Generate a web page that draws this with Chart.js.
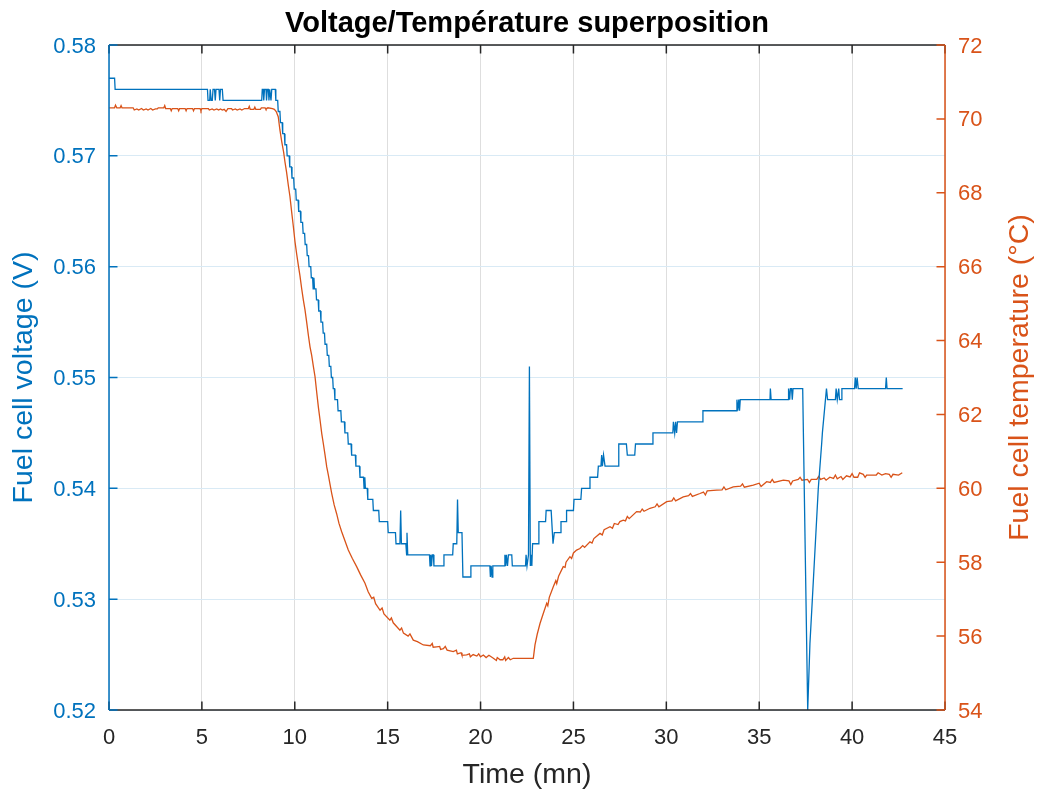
<!DOCTYPE html>
<html>
<head>
<meta charset="utf-8">
<script src="https://cdn.jsdelivr.net/npm/chart.js@4.4.1/dist/chart.umd.min.js"></script>
<style>
  html, body { margin: 0; padding: 0; background: #ffffff; }
  #wrap { width: 1038px; height: 794px; }
</style>
</head>
<body>
<div id="wrap"><canvas id="mainChart" width="1038" height="794"></canvas></div>
<script>
// Textos del gráfico
const chartTitle = 'Voltage/Température superposition';
const xTitle = 'Time (mn)';
const voltTitle = 'Fuel cell voltage (V)';
const tempTitle = 'Fuel cell temperature (°C)';

// Ticks de los ejes
const timeTicks = [0, 5, 10, 15, 20, 25, 30, 35, 40, 45];
const voltTicks = [0.52, 0.53, 0.54, 0.55, 0.56, 0.57, 0.58];
const tempTicks = [54, 56, 58, 60, 62, 64, 66, 68, 70, 72];

// Tensión de la pila [tiempo (mn), V]
const voltagePoints = [
  [0, 0.577], [0.3, 0.577], [0.33, 0.576],
  [5.3, 0.576], [5.33, 0.575], [5.42, 0.575], [5.45, 0.576], [5.5, 0.575], [5.56, 0.575], [5.6, 0.576],
  [5.68, 0.576], [5.72, 0.575], [5.76, 0.576], [5.92, 0.576], [5.96, 0.575], [6.0, 0.576], [6.1, 0.576], [6.14, 0.575],
  [8.22, 0.575], [8.25, 0.576], [8.3, 0.576], [8.33, 0.575], [8.37, 0.576], [8.45, 0.576], [8.48, 0.575], [8.52, 0.576],
  [8.58, 0.576], [8.61, 0.575], [8.65, 0.576], [8.72, 0.575], [8.76, 0.576], [8.95, 0.576],
  [8.98, 0.575], [9.08, 0.575], [9.11, 0.574], [9.2, 0.574], [9.23, 0.573], [9.32, 0.573], [9.35, 0.572], [9.44, 0.572],
  [9.47, 0.571], [9.56, 0.571], [9.59, 0.570], [9.7, 0.570], [9.73, 0.569], [9.82, 0.569], [9.85, 0.568], [9.94, 0.568],
  [9.97, 0.567], [10.05, 0.567], [10.08, 0.566], [10.18, 0.566], [10.21, 0.565], [10.3, 0.565], [10.33, 0.564], [10.42, 0.564],
  [10.45, 0.563], [10.53, 0.563], [10.56, 0.562], [10.64, 0.562], [10.67, 0.561], [10.74, 0.561], [10.77, 0.560], [10.86, 0.560],
  [10.89, 0.559], [10.96, 0.559], [10.99, 0.558], [11.03, 0.559], [11.06, 0.558], [11.14, 0.558], [11.17, 0.557], [11.26, 0.557],
  [11.29, 0.556], [11.38, 0.556], [11.41, 0.555], [11.5, 0.555], [11.53, 0.554], [11.6, 0.554], [11.63, 0.553], [11.72, 0.553],
  [11.75, 0.552], [11.83, 0.552], [11.86, 0.551], [11.94, 0.551], [11.97, 0.550], [12.04, 0.550], [12.07, 0.549], [12.13, 0.549],
  [12.16, 0.548], [12.3, 0.548], [12.33, 0.547], [12.48, 0.547], [12.51, 0.546], [12.67, 0.546], [12.7, 0.545], [12.85, 0.545],
  [12.88, 0.544], [13.03, 0.544], [13.06, 0.543], [13.26, 0.543], [13.29, 0.542], [13.48, 0.542], [13.51, 0.541], [13.7, 0.541],
  [13.73, 0.540], [13.77, 0.541], [13.8, 0.540], [13.9, 0.540], [13.93, 0.539], [14.2, 0.539], [14.23, 0.538], [14.52, 0.538],
  [14.55, 0.537], [15.0, 0.537], [15.03, 0.536], [15.42, 0.536], [15.45, 0.535], [15.66, 0.535], [15.7, 0.538], [15.74, 0.535],
  [15.98, 0.535], [16.02, 0.534], [16.04, 0.536], [16.08, 0.534], [17.25, 0.534], [17.28, 0.533], [17.32, 0.534], [17.36, 0.533],
  [17.4, 0.534], [17.46, 0.534], [17.49, 0.533], [18.0, 0.533], [18.03, 0.534], [18.5, 0.534], [18.53, 0.535], [18.72, 0.535],
  [18.76, 0.539], [18.8, 0.536], [19.0, 0.536], [19.05, 0.532], [19.45, 0.532], [19.48, 0.533], [20.5, 0.533], [20.53, 0.532],
  [20.57, 0.533], [20.62, 0.532], [20.66, 0.533], [21.28, 0.533], [21.31, 0.534], [21.35, 0.533], [21.39, 0.534], [21.45, 0.533],
  [21.5, 0.534], [21.68, 0.534], [21.71, 0.533], [22.42, 0.533], [22.45, 0.534], [22.5, 0.533], [22.58, 0.534], [22.63, 0.551],
  [22.68, 0.533], [22.72, 0.534], [22.76, 0.533], [22.8, 0.535], [23.1, 0.535], [23.14, 0.537], [23.5, 0.537], [23.53, 0.538],
  [23.8, 0.538], [23.9, 0.535], [23.97, 0.536], [24.3, 0.536], [24.33, 0.537], [24.6, 0.537], [24.63, 0.538], [25.0, 0.538],
  [25.03, 0.539], [25.4, 0.539], [25.44, 0.540], [25.86, 0.540], [25.89, 0.541], [26.3, 0.541], [26.34, 0.542], [26.48, 0.542],
  [26.52, 0.543], [26.56, 0.542], [26.62, 0.543], [26.7, 0.542], [27.4, 0.542], [27.44, 0.544], [27.85, 0.544], [27.9, 0.543],
  [28.3, 0.543], [28.34, 0.544], [29.25, 0.544], [29.28, 0.545], [30.35, 0.545], [30.38, 0.546], [30.45, 0.545], [30.5, 0.546],
  [30.55, 0.545], [30.6, 0.546], [31.94, 0.546], [31.97, 0.547], [33.77, 0.547], [33.8, 0.548], [33.84, 0.547], [33.9, 0.548],
  [33.94, 0.547], [33.98, 0.548], [35.58, 0.548], [35.6, 0.549], [35.64, 0.548], [36.55, 0.548], [36.58, 0.549], [36.64, 0.548],
  [36.68, 0.549], [36.74, 0.549], [36.78, 0.548], [36.82, 0.549], [37.34, 0.549], [37.61, 0.520], [37.73, 0.526], [37.86, 0.530],
  [38.18, 0.540], [38.36, 0.544], [38.4, 0.545], [38.62, 0.549], [38.68, 0.548], [39.1, 0.548], [39.14, 0.549], [39.2, 0.548],
  [39.28, 0.549], [39.32, 0.548], [39.42, 0.548], [39.45, 0.549], [40.13, 0.549], [40.17, 0.550], [40.22, 0.549], [40.27, 0.550],
  [40.33, 0.549], [41.8, 0.549], [41.84, 0.550], [41.88, 0.549], [42.72, 0.549]
];

// Temperatura de la pila [tiempo (mn), °C]
const temperaturePoints = [
  [0, 70.3], [0.3, 70.3], [0.35, 70.37], [0.42, 70.3], [0.6, 70.3], [0.65, 70.36], [0.7, 70.3], [1.3, 70.3],
  [1.36, 70.24], [1.5, 70.27], [1.6, 70.24], [1.75, 70.28], [1.85, 70.24], [2.0, 70.27], [2.1, 70.24], [2.25, 70.28],
  [2.35, 70.24], [2.5, 70.27], [2.6, 70.27], [2.65, 70.3], [2.95, 70.3], [3.0, 70.36], [3.05, 70.28], [3.3, 70.28],
  [3.35, 70.22], [3.4, 70.28], [3.7, 70.28], [3.75, 70.22], [3.8, 70.28], [4.1, 70.28], [4.15, 70.22], [4.2, 70.28],
  [4.5, 70.28], [4.55, 70.22], [4.6, 70.28], [4.9, 70.28], [4.95, 70.22], [5.0, 70.28], [5.35, 70.28], [5.4, 70.24],
  [5.55, 70.27], [5.65, 70.24], [5.8, 70.27], [5.9, 70.24], [6.0, 70.27], [6.1, 70.24], [6.2, 70.26], [6.3, 70.2],
  [6.4, 70.28], [6.6, 70.28], [6.65, 70.24], [6.8, 70.27], [6.9, 70.24], [7.05, 70.27], [7.15, 70.24], [7.3, 70.28],
  [7.5, 70.28], [7.55, 70.34], [7.6, 70.26], [7.8, 70.26], [7.85, 70.32], [7.9, 70.26], [8.15, 70.26], [8.2, 70.3],
  [8.4, 70.3], [8.45, 70.26], [8.55, 70.3], [8.8, 70.28], [8.9, 70.26], [9.0, 70.2], [9.11, 70.06], [9.2, 69.7],
  [9.3, 69.38], [9.4, 69.1], [9.47, 68.84], [9.56, 68.55], [9.65, 68.21], [9.74, 67.9], [9.83, 67.49], [9.92, 67.1],
  [10.01, 66.68], [10.1, 66.35], [10.19, 66.04], [10.28, 65.75], [10.37, 65.41], [10.46, 65.1], [10.55, 64.83], [10.64, 64.5],
  [10.73, 64.15], [10.82, 63.83], [10.91, 63.6], [11.0, 63.3], [11.09, 63.02], [11.18, 62.6], [11.27, 62.2], [11.36, 61.85],
  [11.45, 61.49], [11.54, 61.2], [11.63, 60.9], [11.72, 60.58], [11.81, 60.35], [11.9, 60.1], [11.99, 59.86], [12.12, 59.55],
  [12.25, 59.32], [12.38, 59.05], [12.52, 58.83], [12.7, 58.58], [12.88, 58.33], [13.1, 58.1], [13.33, 57.88], [13.55, 57.65],
  [13.78, 57.43], [13.95, 57.2], [14.14, 57.02], [14.25, 57.05], [14.35, 56.88], [14.59, 56.7], [14.7, 56.76], [14.8, 56.6],
  [15.12, 56.43], [15.2, 56.49], [15.3, 56.36], [15.66, 56.16], [15.75, 56.22], [15.85, 56.08], [16.1, 56.0], [16.2, 56.06],
  [16.38, 55.89], [16.6, 55.85], [16.92, 55.76], [17.3, 55.74], [17.4, 55.8], [17.45, 55.7], [17.64, 55.71], [17.8, 55.72],
  [17.85, 55.64], [18.0, 55.66], [18.1, 55.72], [18.2, 55.62], [18.53, 55.58], [18.7, 55.62], [18.75, 55.52], [18.95, 55.55],
  [19.0, 55.48], [19.25, 55.49], [19.4, 55.52], [19.45, 55.44], [19.6, 55.5], [19.8, 55.46], [19.9, 55.52], [20.0, 55.44],
  [20.15, 55.49], [20.3, 55.42], [20.45, 55.48], [20.69, 55.4], [20.85, 55.34], [20.9, 55.42], [21.05, 55.36], [21.2, 55.36],
  [21.3, 55.44], [21.35, 55.34], [21.5, 55.42], [21.6, 55.36], [21.76, 55.4], [22.0, 55.4], [22.84, 55.4], [22.93, 55.76],
  [23.05, 56.05], [23.2, 56.34], [23.38, 56.62], [23.56, 56.89], [23.62, 56.82], [23.7, 57.05], [23.92, 57.34], [24.05, 57.5],
  [24.1, 57.42], [24.2, 57.62], [24.45, 57.88], [24.55, 57.86], [24.6, 58.0], [24.81, 58.15], [24.9, 58.1], [25.0, 58.25],
  [25.17, 58.33], [25.35, 58.37], [25.5, 58.45], [25.6, 58.4], [25.89, 58.55], [26.0, 58.52], [26.1, 58.64], [26.43, 58.78],
  [26.55, 58.74], [26.65, 58.88], [26.97, 58.96], [27.1, 58.92], [27.2, 59.05], [27.4, 59.02], [27.5, 59.1], [27.68, 59.14],
  [27.8, 59.12], [27.9, 59.24], [28.0, 59.18], [28.4, 59.37], [28.6, 59.36], [28.7, 59.44], [28.8, 59.38], [29.12, 59.46],
  [29.4, 59.5], [29.5, 59.58], [29.6, 59.5], [30.02, 59.64], [30.3, 59.66], [30.4, 59.74], [30.5, 59.66], [30.91, 59.77],
  [31.2, 59.8], [31.3, 59.86], [31.4, 59.78], [31.81, 59.86], [32.0, 59.9], [32.1, 59.82], [32.2, 59.93], [32.71, 59.95],
  [33.0, 59.96], [33.1, 60.04], [33.2, 59.96], [33.6, 60.04], [34.0, 60.06], [34.1, 60.12], [34.2, 60.03], [34.68, 60.09],
  [35.0, 60.14], [35.1, 60.05], [35.4, 60.18], [35.6, 60.16], [35.7, 60.24], [35.8, 60.16], [36.3, 60.22], [36.6, 60.2],
  [36.7, 60.1], [36.8, 60.2], [37.1, 60.24], [37.2, 60.3], [37.3, 60.22], [37.6, 60.24], [37.7, 60.16], [37.8, 60.24],
  [38.1, 60.24], [38.2, 60.32], [38.3, 60.24], [38.5, 60.28], [38.6, 60.22], [38.8, 60.3], [39.0, 60.27], [39.1, 60.36],
  [39.2, 60.26], [39.4, 60.32], [39.5, 60.24], [39.7, 60.34], [39.89, 60.31], [40.0, 60.4], [40.1, 60.3], [40.3, 60.3],
  [40.4, 60.42], [40.6, 60.38], [40.7, 60.3], [40.78, 60.36], [41.0, 60.36], [41.3, 60.36], [41.4, 60.42], [41.6, 60.36],
  [41.8, 60.4], [42.0, 60.38], [42.1, 60.3], [42.2, 60.38], [42.5, 60.36], [42.7, 60.42]
];

// Colores estilo MATLAB
const BLUE = '#0072BD';
const ORANGE = '#D95319';
const DARK = '#262626';
const FONT = "'Liberation Sans', Arial, Helvetica, sans-serif";

const toXY = pts => pts.map(p => ({ x: p[0], y: p[1] }));

// Marco, ticks hacia dentro y título del eje derecho (como en MATLAB)
const matlabAxes = {
    id: 'matlabAxes',
    afterDatasetsDraw(chart) {
        const { ctx, chartArea: a, scales } = chart;
        const tl = 8.5;
        ctx.save();
        ctx.lineWidth = 1.5;

        ctx.strokeStyle = DARK;
        ctx.beginPath();
        ctx.moveTo(a.left, a.top); ctx.lineTo(a.right, a.top);
        ctx.moveTo(a.left, a.bottom); ctx.lineTo(a.right, a.bottom);
        scales.x.ticks.forEach(t => {
            const px = scales.x.getPixelForValue(t.value);
            ctx.moveTo(px, a.bottom); ctx.lineTo(px, a.bottom - tl);
            ctx.moveTo(px, a.top); ctx.lineTo(px, a.top + tl);
        });
        ctx.stroke();

        ctx.strokeStyle = BLUE;
        ctx.beginPath();
        ctx.moveTo(a.left, a.top); ctx.lineTo(a.left, a.bottom);
        scales.yV.ticks.forEach(t => {
            const py = scales.yV.getPixelForValue(t.value);
            ctx.moveTo(a.left, py); ctx.lineTo(a.left + tl, py);
        });
        ctx.stroke();

        ctx.strokeStyle = ORANGE;
        ctx.beginPath();
        ctx.moveTo(a.right, a.top); ctx.lineTo(a.right, a.bottom);
        scales.yT.ticks.forEach(t => {
            const py = scales.yT.getPixelForValue(t.value);
            ctx.moveTo(a.right, py); ctx.lineTo(a.right - tl, py);
        });
        ctx.stroke();

        // título eje derecho, leído de abajo hacia arriba
        ctx.fillStyle = ORANGE;
        ctx.font = '28.5px ' + FONT;
        ctx.textAlign = 'center';
        ctx.textBaseline = 'middle';
        ctx.translate(1020, (a.top + a.bottom) / 2);
        ctx.rotate(-Math.PI / 2);
        ctx.fillText(tempTitle, 0, 0);
        ctx.restore();
    }
};

new Chart(document.getElementById('mainChart'), {
    type: 'line',
    data: {
        datasets: [
            { label: 'Voltage', data: toXY(voltagePoints), yAxisID: 'yV', borderColor: BLUE, borderWidth: 1.3, pointRadius: 0, tension: 0 },
            { label: 'Temperature', data: toXY(temperaturePoints), yAxisID: 'yT', borderColor: ORANGE, borderWidth: 1.3, pointRadius: 0, tension: 0 }
        ]
    },
    options: {
        responsive: false,
        animation: false,
        devicePixelRatio: 1,
        layout: { padding: 0 },
        plugins: {
            legend: { display: false },
            tooltip: { enabled: false },
            title: {
                display: true,
                text: chartTitle,
                fullSize: false,
                color: '#000000',
                font: { family: FONT, size: 29, weight: 'bold', lineHeight: 1.2 },
                padding: { top: 7, bottom: 3.2 }
            }
        },
        scales: {
            x: {
                type: 'linear',
                min: 0, max: 45,
                afterBuildTicks: s => { s.ticks = timeTicks.map(v => ({ value: v })); },
                afterFit: s => { s.height = 84; },
                ticks: { color: DARK, font: { family: FONT, size: 22 }, padding: 15, maxRotation: 0 },
                grid: { color: 'rgb(222,222,222)', lineWidth: 1, drawTicks: false },
                border: { display: false },
                title: { display: true, text: xTitle, color: DARK, font: { family: FONT, size: 28.5, lineHeight: 1.2 }, padding: { top: 0, bottom: 2 } }
            },
            yV: {
                type: 'linear',
                position: 'left',
                min: 0.52, max: 0.58,
                afterBuildTicks: s => { s.ticks = voltTicks.map(v => ({ value: v })); },
                afterFit: s => { s.width = 109; },
                ticks: { color: BLUE, font: { family: FONT, size: 22 }, padding: 13, labelOffset: 1.5, callback: v => v.toFixed(2) },
                grid: { color: 'rgb(217,234,245)', lineWidth: 1, drawTicks: false },
                border: { display: false },
                title: { display: true, text: voltTitle, color: BLUE, font: { family: FONT, size: 28.5, lineHeight: 1.2 }, padding: { top: 7, bottom: 0 } }
            },
            yT: {
                type: 'linear',
                position: 'right',
                min: 54, max: 72,
                afterBuildTicks: s => { s.ticks = tempTicks.map(v => ({ value: v })); },
                afterFit: s => { s.width = 93; },
                ticks: { color: ORANGE, font: { family: FONT, size: 22 }, padding: 13, labelOffset: 1.5 },
                grid: { display: false, drawTicks: false },
                border: { display: false }
            }
        }
    },
    plugins: [matlabAxes]
});
</script>
</body>
</html>
